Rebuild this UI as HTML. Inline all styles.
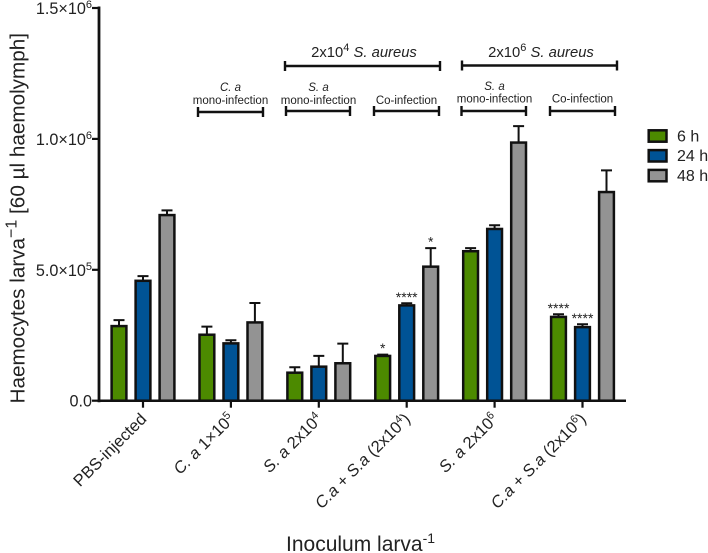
<!DOCTYPE html>
<html lang="en">
<head>
<meta charset="utf-8">
<title>Haemocytes per larva</title>
<style>
html,body{margin:0;padding:0;background:#fff;}
svg{display:block;font-family:"Liberation Sans",Arial,sans-serif;fill:#222;}
</style>
</head>
<body>
<svg id="chart" xmlns="http://www.w3.org/2000/svg" width="708" height="553" viewBox="0 0 708 553">
  <text transform="translate(24.500,403.500) rotate(-90)" font-size="20.700">Haemocytes larva<tspan font-size="16" baseline-shift="8">−1</tspan> [60 µl haemolymph]</text>
  <text x="286" y="551" font-size="21">Inoculum larva<tspan font-size="14" baseline-shift="8">-1</tspan></text>

  <g>
    <text x="364" y="57" text-anchor="middle" font-size="14.800">2x10<tspan font-size="11" baseline-shift="6">4</tspan> <tspan font-style="italic">S. aureus</tspan></text>
    <path d="M285 66H440M285 61V71M440 61V71" stroke="#111" stroke-width="2.400" fill="none"/>
  </g>
  <g>
    <text x="541" y="57" text-anchor="middle" font-size="14.800">2x10<tspan font-size="11" baseline-shift="6">6</tspan> <tspan font-style="italic">S. aureus</tspan></text>
    <path d="M462 65.500H617M462 60.500V70.500M617 60.500V70.500" stroke="#111" stroke-width="2.400" fill="none"/>
  </g>
  <g font-size="11.500">
    <text x="230.500" y="91" text-anchor="middle" font-style="italic">C. a</text>
    <text x="230.500" y="104" text-anchor="middle">mono-infection</text>
    <path d="M198 112H263M198 107V117M263 107V117" stroke="#111" stroke-width="2.400" fill="none"/>
  </g>
  <g font-size="11.500">
    <text x="318.500" y="91" text-anchor="middle" font-style="italic">S. a</text>
    <text x="318.500" y="104" text-anchor="middle">mono-infection</text>
    <path d="M286 111H350M286 106V116M350 106V116" stroke="#111" stroke-width="2.400" fill="none"/>
  </g>
  <g font-size="11.500">
    <text x="406.500" y="104" text-anchor="middle">Co-infection</text>
    <path d="M374 111H439M374 106V116M439 106V116" stroke="#111" stroke-width="2.400" fill="none"/>
  </g>
  <g font-size="11.500">
    <text x="494.500" y="90" text-anchor="middle" font-style="italic">S. a</text>
    <text x="494.500" y="102.700" text-anchor="middle">mono-infection</text>
    <path d="M461.500 111H526M461.500 106V116M526 106V116" stroke="#111" stroke-width="2.400" fill="none"/>
  </g>
  <g font-size="11.500">
    <text x="582.500" y="102.700" text-anchor="middle">Co-infection</text>
    <path d="M550 111H615M550 106V116M615 106V116" stroke="#111" stroke-width="2.400" fill="none"/>
  </g>
</svg>
<script>
var categories = [
  'PBS-injected',
  '<tspan font-style="italic">C. a</tspan> 1×10<tspan font-size="11" baseline-shift="6">5</tspan>',
  '<tspan font-style="italic">S. a</tspan> 2x10<tspan font-size="11" baseline-shift="6">4</tspan>',
  '<tspan font-style="italic">C.a + S.a</tspan> (2x10<tspan font-size="11" baseline-shift="6">4</tspan>)',
  '<tspan font-style="italic">S. a</tspan> 2x10<tspan font-size="11" baseline-shift="6">6</tspan>',
  '<tspan font-style="italic">C.a + S.a</tspan> (2x10<tspan font-size="11" baseline-shift="6">6</tspan>)'
];
var seriesNames = ['6 h', '24 h', '48 h'];
var seriesColors = ['#4c8a00', '#005395', '#939393'];
var values6h = [285000, 252000, 107000, 171000, 571000, 320000];
var values24h = [458000, 219000, 130000, 364000, 656000, 281000];
var values48h = [709000, 299000, 143000, 512000, 986000, 797000];
var errorTops6h = [308000, 283000, 128000, 176000, 583000, 330000];
var errorTops24h = [476000, 231000, 171000, 372000, 670000, 292000];
var errorTops48h = [727000, 373000, 218000, 583000, 1049000, 880000];
var stars6h = ['', '', '', '*', '', '****'];
var stars24h = ['', '', '', '****', '', '****'];
var stars48h = ['', '', '', '*', '', ''];
var yTickValues = [0, 500000, 1000000, 1500000];
var yTickMantissas = ['0.0', '5.0×10', '1.0×10', '1.5×10'];
var yTickExponents = ['', '5', '6', '6'];

var allValues = [values6h, values24h, values48h];
var allErrors = [errorTops6h, errorTops24h, errorTops48h];
var allStars = [stars6h, stars24h, stars48h];

var svg = document.getElementById('chart');
var NS = 'http://www.w3.org/2000/svg';
var INK = '#111';

function yScale(v) { return 400.7 - v * (392.7 / 1500000); }
function xCategory(i) { return 143 + i * 87.9; }
function xBar(i, s) { return xCategory(i) + (s - 1) * 24; }

function mk(tag, attrs, parent) {
  var el = document.createElementNS(NS, tag);
  for (var k in attrs) { el.setAttribute(k, attrs[k]); }
  (parent || svg).appendChild(el);
  return el;
}

var el, g;

/* bars, error bars, significance marks */
allValues.forEach(function (vals, s) {
  vals.forEach(function (v, i) {
    var cx = xBar(i, s), top = yScale(v), err = yScale(allErrors[s][i]);

    var eb = mk('path', { d: 'M' + cx + ' ' + top + 'V' + err + 'M' + (cx - 5.5) + ' ' + err + 'H' + (cx + 5.5), stroke: INK, 'stroke-width': 2, fill: 'none' });
    
    

    var bar = mk('rect', { x: cx - 7.4, y: top, width: 14.8, height: yScale(0) - top, fill: seriesColors[s], stroke: INK, 'stroke-width': 2.5 });
    
    

    if (allStars[s][i]) {
      var st = mk('text', { x: cx, y: err - 1.5, 'text-anchor': 'middle', 'font-size': 14 });
      st.textContent = allStars[s][i];
      
      
    }
  });
});

/* axes */
el = mk('line', { x1: 99, x2: 99, y1: yScale(1500000) - 1.5, y2: yScale(0) + 1.5, stroke: INK, 'stroke-width': 2.800 });



el = mk('line', { x1: 97.7, x2: 626, y1: yScale(0), y2: yScale(0), stroke: INK, 'stroke-width': 2.500 });



yTickValues.forEach(function (v, i) {
  var y = yScale(v);
  var t = mk('line', { x1: 92, x2: 99, y1: y, y2: y, stroke: INK, 'stroke-width': 2.200 });
  
  

  var label = mk('text', { x: 92, y: y + 6, 'text-anchor': 'end', 'font-size': 16.2 });
  label.innerHTML = yTickMantissas[i] + (yTickExponents[i] ? '<tspan font-size="11" baseline-shift="6">' + yTickExponents[i] + '</tspan>' : '');
  
  
});

categories.forEach(function (c, i) {
  var x = xCategory(i);
  var t = mk('line', { x1: x, x2: x, y1: yScale(0), y2: yScale(0) + 7, stroke: INK, 'stroke-width': 2.200 });
  
  

  var label = mk('text', { transform: 'translate(' + (x + 4.5) + ',420) rotate(-45)', 'text-anchor': 'end', 'font-size': 16.5 });
  label.innerHTML = c;
  
  
});

/* legend */
g = mk('g', {});


seriesNames.forEach(function (name, s) {
  var y = 130.3 + s * 19.8;
  var sw = mk('rect', { x: 648.7, y: y, width: 17.8, height: 11.4, fill: seriesColors[s], stroke: INK, 'stroke-width': 2.5 }, g);
  
  

  var tx = mk('text', { x: 677, y: y + 11, 'font-size': 16 }, g);
  tx.textContent = name;
  
  
});
</script>
</body>
</html>
